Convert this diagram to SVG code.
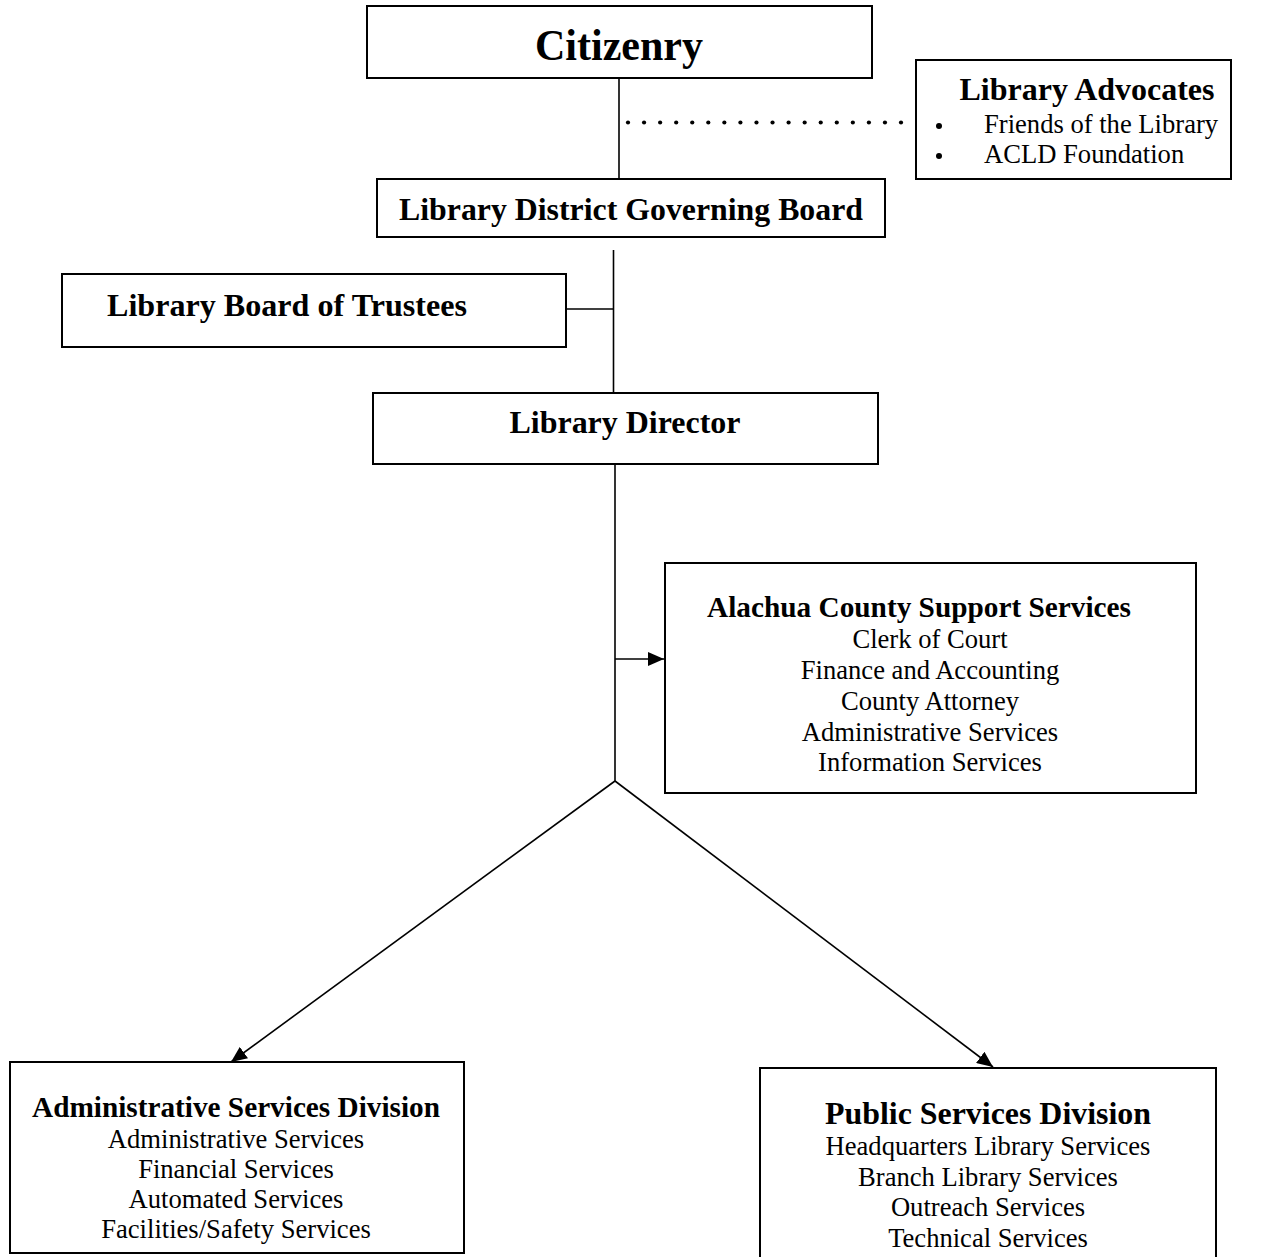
<svg xmlns="http://www.w3.org/2000/svg" width="1261" height="1257" viewBox="0 0 1261 1257">
<style>
.box{fill:#fff;stroke:#000;stroke-width:2}
.ln{fill:none;stroke:#000;stroke-width:1.6}
.dot{fill:#000}
text{font-family:"Liberation Serif","Times New Roman",serif;fill:#000}
.b{font-weight:bold}
.t32{font-size:32px}
.t29{font-size:29px}
.r{font-size:26.6px}
.c{text-anchor:middle}
</style>
<defs>
<marker id="ah" markerUnits="userSpaceOnUse" markerWidth="17" markerHeight="14" refX="16" refY="7" orient="auto">
<path d="M0,0 L16,7 L0,14 z" fill="#000"/>
</marker>
</defs>
<rect width="1261" height="1257" fill="#fff"/>
<g id="connectors">
<line class="ln" x1="619" y1="78" x2="619" y2="179"/>
<g id="dotted-link">
<circle class="dot" cx="628" cy="122.5" r="2.1"/>
<circle class="dot" cx="644.06" cy="122.5" r="2.1"/>
<circle class="dot" cx="660.12" cy="122.5" r="2.1"/>
<circle class="dot" cx="676.18" cy="122.5" r="2.1"/>
<circle class="dot" cx="692.24" cy="122.5" r="2.1"/>
<circle class="dot" cx="708.3" cy="122.5" r="2.1"/>
<circle class="dot" cx="724.36" cy="122.5" r="2.1"/>
<circle class="dot" cx="740.42" cy="122.5" r="2.1"/>
<circle class="dot" cx="756.48" cy="122.5" r="2.1"/>
<circle class="dot" cx="772.54" cy="122.5" r="2.1"/>
<circle class="dot" cx="788.6" cy="122.5" r="2.1"/>
<circle class="dot" cx="804.66" cy="122.5" r="2.1"/>
<circle class="dot" cx="820.72" cy="122.5" r="2.1"/>
<circle class="dot" cx="836.78" cy="122.5" r="2.1"/>
<circle class="dot" cx="852.84" cy="122.5" r="2.1"/>
<circle class="dot" cx="868.9" cy="122.5" r="2.1"/>
<circle class="dot" cx="884.96" cy="122.5" r="2.1"/>
<circle class="dot" cx="901" cy="122.5" r="2.1"/>
</g>
<line class="ln" x1="613.5" y1="250" x2="613.5" y2="393"/>
<line class="ln" x1="566" y1="309" x2="613.5" y2="309"/>
<line class="ln" x1="615" y1="464" x2="615" y2="781"/>
<line class="ln" x1="615" y1="659" x2="664" y2="659" marker-end="url(#ah)"/>
<line class="ln" x1="615" y1="781" x2="231" y2="1062" marker-end="url(#ah)"/>
<line class="ln" x1="615" y1="781" x2="993" y2="1067" marker-end="url(#ah)"/>
</g>
<g id="citizenry">
<rect class="box" x="367" y="6" width="505" height="72"/>
<text class="b c" x="619" y="60" font-size="44" textLength="168" lengthAdjust="spacingAndGlyphs">Citizenry</text>
</g>
<g id="library-advocates">
<rect class="box" x="916" y="60" width="315" height="119"/>
<text class="b t32 c" x="1087" y="100" textLength="255" lengthAdjust="spacingAndGlyphs">Library Advocates</text>
<circle class="dot" cx="939" cy="126" r="3"/>
<text class="r" x="984" y="133">Friends of the Library</text>
<circle class="dot" cx="939" cy="156" r="3"/>
<text class="r" x="984" y="163">ACLD Foundation</text>
</g>
<g id="governing-board">
<rect class="box" x="377" y="179" width="508" height="58"/>
<text class="b t32 c" x="631" y="220" textLength="464" lengthAdjust="spacingAndGlyphs">Library District Governing Board</text>
</g>
<g id="board-of-trustees">
<rect class="box" x="62" y="274" width="504" height="73"/>
<text class="b t32" x="107" y="316" textLength="360" lengthAdjust="spacingAndGlyphs">Library Board of Trustees</text>
</g>
<g id="library-director">
<rect class="box" x="373" y="393" width="505" height="71"/>
<text class="b t32 c" x="625" y="433" textLength="231" lengthAdjust="spacingAndGlyphs">Library Director</text>
</g>
<g id="county-support">
<rect class="box" x="665" y="563" width="531" height="230"/>
<text class="b t29 c" x="919" y="617" textLength="424" lengthAdjust="spacingAndGlyphs">Alachua County Support Services</text>
<text class="r c" x="930" y="648">Clerk of Court</text>
<text class="r c" x="930" y="679">Finance and Accounting</text>
<text class="r c" x="930" y="710">County Attorney</text>
<text class="r c" x="930" y="741">Administrative Services</text>
<text class="r c" x="930" y="771">Information Services</text>
</g>
<g id="admin-division">
<rect class="box" x="10" y="1062" width="454" height="191"/>
<text class="b t29 c" x="236" y="1117" textLength="408" lengthAdjust="spacingAndGlyphs">Administrative Services Division</text>
<text class="r c" x="236" y="1148">Administrative Services</text>
<text class="r c" x="236" y="1178">Financial Services</text>
<text class="r c" x="236" y="1208">Automated Services</text>
<text class="r c" x="236" y="1238">Facilities/Safety Services</text>
</g>
<g id="public-division">
<rect class="box" x="760" y="1068" width="456" height="200"/>
<text class="b t32 c" x="988" y="1124" textLength="326" lengthAdjust="spacingAndGlyphs">Public Services Division</text>
<text class="r c" x="988" y="1155">Headquarters Library Services</text>
<text class="r c" x="988" y="1186">Branch Library Services</text>
<text class="r c" x="988" y="1216">Outreach Services</text>
<text class="r c" x="988" y="1247">Technical Services</text>
</g>
</svg>
